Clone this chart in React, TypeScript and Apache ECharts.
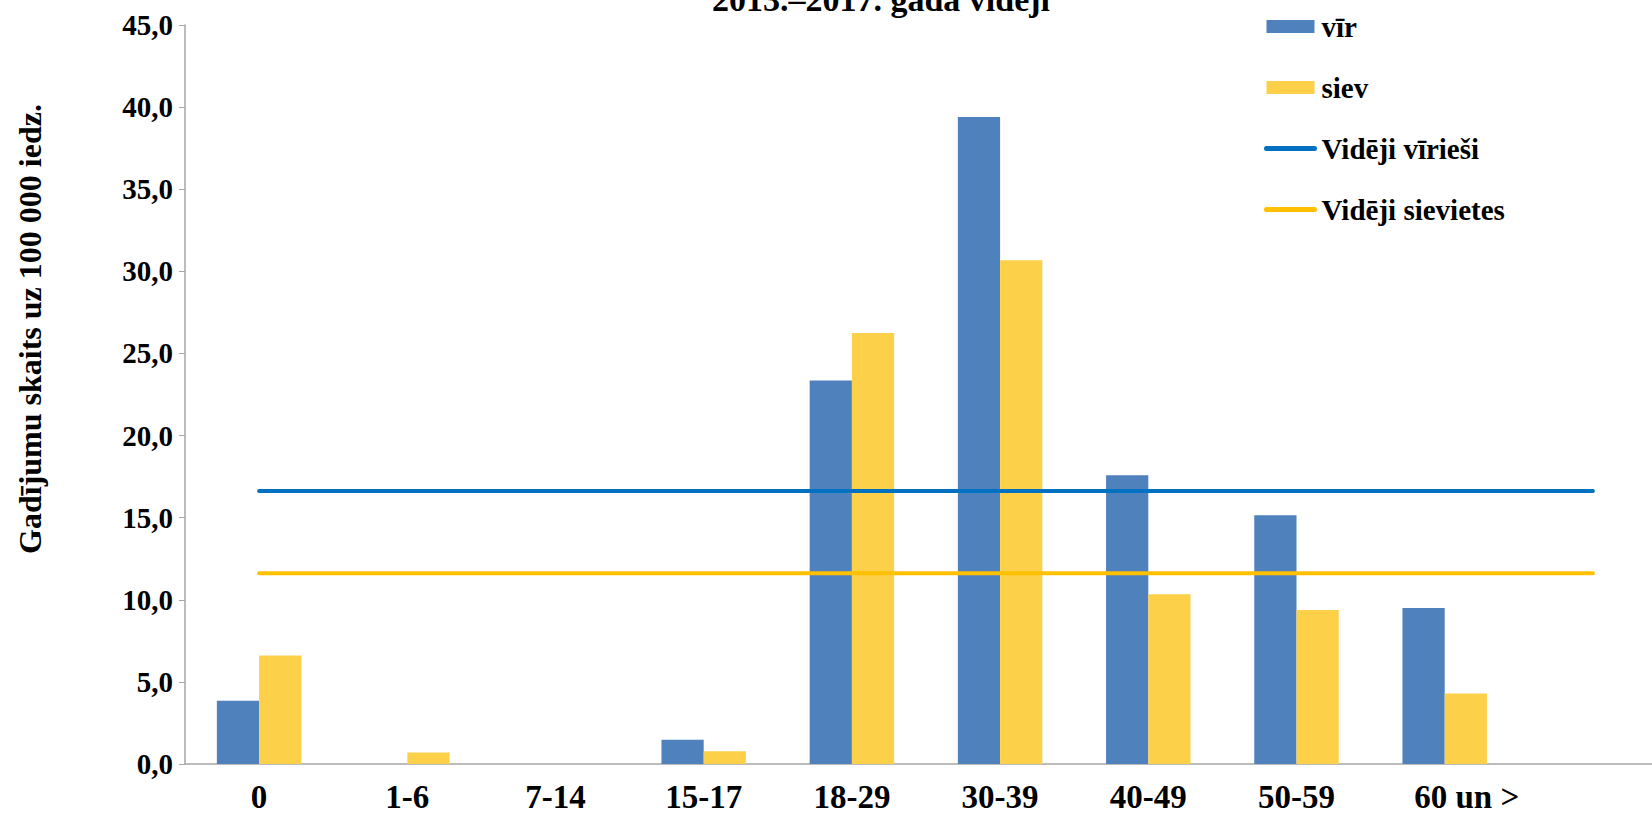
import React, { useEffect, useRef } from "react";
import * as echarts from "echarts";

const categories = ["0", "1-6", "7-14", "15-17", "18-29", "30-39", "40-49", "50-59", "60 un >", ""];
const men = [3.85, 0, 0, 1.48, 23.36, 39.4, 17.59, 15.15, 9.5, null];
const women = [6.61, 0.7, 0, 0.77, 26.25, 30.68, 10.33, 9.37, 4.3, null];
const avgMen = 16.62;
const avgWomen = 11.62;
const yTicks = { min: 0, max: 45, interval: 5 };
const titleText = "2013.–2017. gada vidēji";
const yName = "Gadījumu skaits uz 100 000 iedz.";

const FONT = "'Liberation Serif', 'Times New Roman', serif";

export default function App() {
  const ref = useRef<HTMLDivElement>(null);
  useEffect(() => {
    if (!ref.current) return;
    const chart = echarts.init(ref.current, null, { renderer: "svg" });
    const catData = categories.map((c) =>
      c === "60 un >" ? { value: c, textStyle: { padding: [0, 0, 0, 44] } } : c
    );
    chart.setOption({
      animation: false,
      backgroundColor: "#ffffff",
      graphic: [
        {
          type: "text",
          x: 881,
          y: 16,
          style: {
            text: titleText,
            textAlign: "center",
            textVerticalAlign: "bottom",
            font: `bold 34px ${FONT}`,
            fill: "#000",
          },
        },
        {
          type: "text",
          x: 30,
          y: 329,
          rotation: Math.PI / 2,
          style: {
            text: yName,
            textAlign: "center",
            textVerticalAlign: "middle",
            font: `bold 32px ${FONT}`,
            fill: "#000",
          },
        },
      ],
      legend: {
        orient: "vertical",
        left: 1259,
        top: 7,
        itemWidth: 48,
        itemHeight: 13,
        itemGap: 32,
        textStyle: { fontFamily: FONT, fontWeight: "bold", fontSize: 29, color: "#000", padding: [0, 0, 0, 2] },
        data: [
          { name: "vīr", icon: "rect" },
          { name: "siev", icon: "rect" },
          { name: "Vidēji vīrieši", itemStyle: { opacity: 0 }, lineStyle: { width: 5, cap: "round" } },
          { name: "Vidēji sievietes", itemStyle: { opacity: 0 }, lineStyle: { width: 5, cap: "round" } },
        ],
      },
      grid: { left: 185, width: 1482, top: 25, bottom: 51, containLabel: false },
      xAxis: {
        type: "category",
        data: catData,
        axisLine: { lineStyle: { color: "#a6a6a6", width: 1.5 } },
        axisTick: { show: false },
        axisLabel: { fontFamily: FONT, fontWeight: "bold", fontSize: 33, color: "#000", margin: 16 },
      },
      yAxis: {
        type: "value",
        min: yTicks.min,
        max: yTicks.max,
        interval: yTicks.interval,
        axisLine: { show: true, lineStyle: { color: "#a6a6a6", width: 1.5 } },
        axisTick: { show: true, length: 6, lineStyle: { color: "#a6a6a6" } },
        splitLine: { show: false },
        axisLabel: {
          fontFamily: FONT,
          fontWeight: "bold",
          fontSize: 29,
          color: "#000",
          margin: 12,
          formatter: (v: number) => v.toFixed(1).replace(".", ","),
        },
      },
      series: [
        {
          name: "vīr",
          type: "bar",
          data: men,
          barGap: "0%",
          barCategoryGap: "43%",
          itemStyle: { color: "#4f81bd" },
        },
        {
          name: "siev",
          type: "bar",
          data: women,
          itemStyle: { color: "#fdd04a" },
        },
        {
          name: "Vidēji vīrieši",
          type: "line",
          data: categories.map(() => avgMen),
          symbol: "none",
          lineStyle: { color: "#0070c0", width: 4, cap: "round" },
          itemStyle: { color: "#0070c0" },
        },
        {
          name: "Vidēji sievietes",
          type: "line",
          data: categories.map(() => avgWomen),
          symbol: "none",
          lineStyle: { color: "#ffc000", width: 4, cap: "round" },
          itemStyle: { color: "#ffc000" },
        },
      ],
    });
    return () => chart.dispose();
  }, []);
  return (
    <div style={{ position: "fixed", left: 0, top: 0, width: 1652, height: 815, overflow: "hidden" }}>
      <div ref={ref} style={{ width: 1680, height: 815 }} />
    </div>
  );
}
